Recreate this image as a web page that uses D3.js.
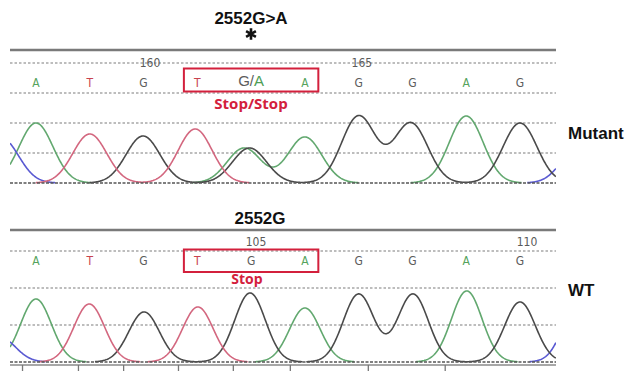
<!DOCTYPE html>
<html>
<head>
<meta charset="utf-8">
<script src="https://cdn.jsdelivr.net/npm/d3@7"></script>
<style>
  body { margin: 0; background: #fff; }
</style>
</head>
<body>
<svg id="chart" width="630" height="371"></svg>
<script>
// ---- data ----
// base calls (position = base index along the read)
const mutantCalls = ["A", "T", "G", "T", "G/A", "A", "G", "G", "A", "G"];
const wtCalls = ["A", "T", "G", "T", "G", "A", "G", "G", "A", "G"];
const callPos = [0, 1, 2, 3, 4, 5, 6, 7, 8, 9];

// peaks of the mutant trace: channel, position (base index), signal height
const mutantPeakBase = ["C", "A", "T", "G", "T", "A", "G", "A", "G", "G", "A", "G", "C"];
const mutantPeakPos = [-0.64, 0, 1.0, 1.99, 2.96, 3.87, 3.97, 5.0, 6.0, 6.97, 8.0, 9.0, 10.11];
const mutantPeakHeight = [450, 600, 490, 470, 540, 350, 350, 460, 670, 600, 670, 600, 390];

// peaks of the wild type trace
const wtPeakBase = ["C", "A", "T", "G", "T", "G", "A", "G", "G", "A", "G", "C"];
const wtPeakPos = [-0.67, 0, 0.99, 2.01, 3.01, 3.98, 5.0, 6.0, 7.01, 8.01, 9.0, 10.11];
const wtPeakHeight = [270, 681, 627, 541, 595, 746, 584, 735, 735, 768, 649, 700];

// base numbering printed on the traces
const mutantNumbers = ["160", "165"];
const mutantNumberPos = [2.12, 6.06];
const wtNumbers = ["105", "110"];
const wtNumberPos = [4.09, 9.13];

// scan ticks under the wild type trace
const wtTicks = [-0.26, 0.78, 1.62, 2.64, 3.66, 4.72, 6.17, 7.6];

// ---- layout ----
const svg = d3.select("#chart");
const plotLeft = 10, plotRight = 556;
const x = d3.scaleLinear().domain([0, 9]).range([36, 520]);

const channelColor = { A: "#62a86f", C: "#5a5ad2", G: "#4a4a4a", T: "#d3677f" };
const callColor = { A: "#55a35c", C: "#4a4ac8", G: "#5c5c5c", T: "#c8434f" };
const red = "#d3203c";

svg.append("defs").append("clipPath").attr("id", "plotClip")
  .append("rect").attr("x", plotLeft).attr("y", 0)
  .attr("width", plotRight - plotLeft).attr("height", 371);

function drawPanel(cfg) {
  const g = svg.append("g");
  const y = d3.scaleLinear().domain([0, 1200]).range(cfg.yRange);

  // solid header rule
  g.append("line")
    .attr("x1", plotLeft).attr("x2", plotRight)
    .attr("y1", cfg.ruleY).attr("y2", cfg.ruleY)
    .attr("stroke", "#7a7a7a").attr("stroke-width", 2.5);

  // dotted grid
  g.selectAll("line.grid").data(cfg.grid).enter().append("line")
    .attr("class", "grid")
    .attr("x1", plotLeft).attr("x2", plotRight)
    .attr("y1", d => y(d)).attr("y2", d => y(d))
    .attr("stroke", "#a8a8a8").attr("stroke-width", 1.5)
    .attr("stroke-dasharray", "2.5,2");

  // base numbering
  g.selectAll("text.num").data(cfg.numbers).enter().append("text")
    .attr("class", "num")
    .attr("x", (d, i) => x(cfg.numberPos[i]))
    .attr("y", cfg.numberY)
    .attr("text-anchor", "middle")
    .attr("font-family", "'Liberation Sans Narrow', 'DejaVu Sans Condensed', 'Liberation Sans', sans-serif")
    .attr("font-size", 12)
    .attr("fill", "#5a5a5a")
    .text(d => d);

  // traces, one continuous curve per channel
  const xs = d3.range(x.invert(plotLeft), x.invert(plotRight) + 0.005, 0.01);
  const channels = ["A", "C", "G", "T"];
  const line = d3.line()
    .defined(d => d.v > 3)
    .x(d => x(d.x))
    .y(d => y(d.v));
  const traces = g.append("g").attr("clip-path", "url(#plotClip)");
  channels.forEach(ch => {
    const idx = cfg.peakBase.map((b, i) => b === ch ? i : -1).filter(i => i >= 0);
    if (!idx.length) return;
    const pts = xs.map(t => ({
      x: t,
      v: d3.sum(idx, i => cfg.peakHeight[i] *
        Math.exp(-((t - cfg.peakPos[i]) ** 2) / (2 * cfg.sigma * cfg.sigma)))
    }));
    traces.append("path")
      .attr("d", line(pts))
      .attr("fill", "none")
      .attr("stroke", channelColor[ch])
      .attr("stroke-width", 1.6)
      .attr("stroke-linejoin", "round");
  });

  // baseline
  g.append("line")
    .attr("x1", plotLeft).attr("x2", plotRight)
    .attr("y1", y(0)).attr("y2", y(0))
    .attr("stroke", "#555").attr("stroke-width", 1.6)
    .attr("stroke-dasharray", "3,1.5");

  // base calls
  g.selectAll("text.call").data(cfg.calls).enter().append("text")
    .attr("class", "call")
    .attr("x", (d, i) => x(callPos[i]))
    .attr("y", cfg.callY)
    .attr("text-anchor", "middle")
    .attr("font-family", "'Liberation Sans Narrow', 'DejaVu Sans Condensed', 'Liberation Sans', sans-serif")
    .attr("font-size", 12)
    .each(function (d) {
      const t = d3.select(this);
      if (d.length === 1) {
        t.attr("fill", callColor[d]).text(d);
      } else {
        // mixed call, printed larger
        t.attr("font-family", "'Liberation Sans', Arial, sans-serif")
          .attr("font-size", 15)
          .attr("y", cfg.callY - 1);
        d.split("/").forEach((b, k) => {
          if (k > 0) t.append("tspan").attr("fill", "#5c5c5c").text("/");
          t.append("tspan").attr("fill", k ? "#4e9e55" : "#5c5c5c").text(b);
        });
      }
    });

  // red box around the codon
  g.append("rect")
    .attr("x", x(2.75)).attr("y", cfg.boxY)
    .attr("width", x(5.25) - x(2.75)).attr("height", cfg.boxH)
    .attr("fill", "none").attr("stroke", red).attr("stroke-width", 2);

  g.append("text")
    .attr("x", cfg.codonX).attr("y", cfg.codonY)
    .attr("text-anchor", "middle")
    .attr("font-family", "'Open Sans', 'Noto Sans', sans-serif")
    .attr("font-weight", "bold").attr("font-size", cfg.codonSize)
    .attr("fill", red)
    .text(cfg.codon);

  // panel titles
  g.append("text")
    .attr("x", cfg.titleX).attr("y", cfg.titleY)
    .attr("text-anchor", "middle")
    .attr("font-family", "'Liberation Sans', Arial, sans-serif")
    .attr("font-weight", "bold").attr("font-size", 17)
    .attr("fill", "#111")
    .text(cfg.title);

  g.append("text")
    .attr("x", 568).attr("y", cfg.sideY)
    .attr("font-family", "'Liberation Sans', Arial, sans-serif")
    .attr("font-weight", "bold").attr("font-size", 17)
    .attr("fill", "#111")
    .text(cfg.side);

  return { g, y };
}

const mutantPanel = drawPanel({
  ruleY: 50, yRange: [183, 63], grid: [300, 600, 900, 1200],
  numbers: mutantNumbers, numberPos: mutantNumberPos, numberY: 67,
  peakBase: mutantPeakBase, peakPos: mutantPeakPos, peakHeight: mutantPeakHeight, sigma: 0.315,
  calls: mutantCalls, callY: 87,
  boxY: 68.5, boxH: 23, codon: "Stop/Stop", codonSize: 15, codonX: 251, codonY: 109,
  title: "2552G>A", titleX: 251, titleY: 24,
  side: "Mutant", sideY: 139
});

// mutation marker
mutantPanel.g.append("path")
  .attr("transform", "translate(251,34)")
  .attr("d", d3.symbol(d3.symbolAsterisk, 90)())
  .attr("fill", "none")
  .attr("stroke", "#111")
  .attr("stroke-width", 2.6);

const wtPanel = drawPanel({
  ruleY: 230, yRange: [362, 251], grid: [400, 800, 1200],
  numbers: wtNumbers, numberPos: wtNumberPos, numberY: 246,
  peakBase: wtPeakBase, peakPos: wtPeakPos, peakHeight: wtPeakHeight, sigma: 0.285,
  calls: wtCalls, callY: 265,
  boxY: 249.5, boxH: 22.5, codon: "Stop", codonSize: 14, codonX: 247, codonY: 284,
  title: "2552G", titleX: 260, titleY: 224,
  side: "WT", sideY: 296
});

// scan axis under the wild type trace
const axisG = svg.append("g").attr("transform", "translate(0,365)");
axisG.append("line")
  .attr("x1", plotLeft).attr("x2", plotRight)
  .attr("stroke", "#8a8a8a").attr("stroke-width", 1.5);
axisG.call(d3.axisBottom(x).tickValues(wtTicks).tickFormat("").tickSize(6).tickSizeOuter(0))
  .call(a => a.select(".domain").remove())
  .call(a => a.selectAll(".tick line").attr("stroke", "#777").attr("stroke-width", 1.3));
</script>
</body>
</html>
